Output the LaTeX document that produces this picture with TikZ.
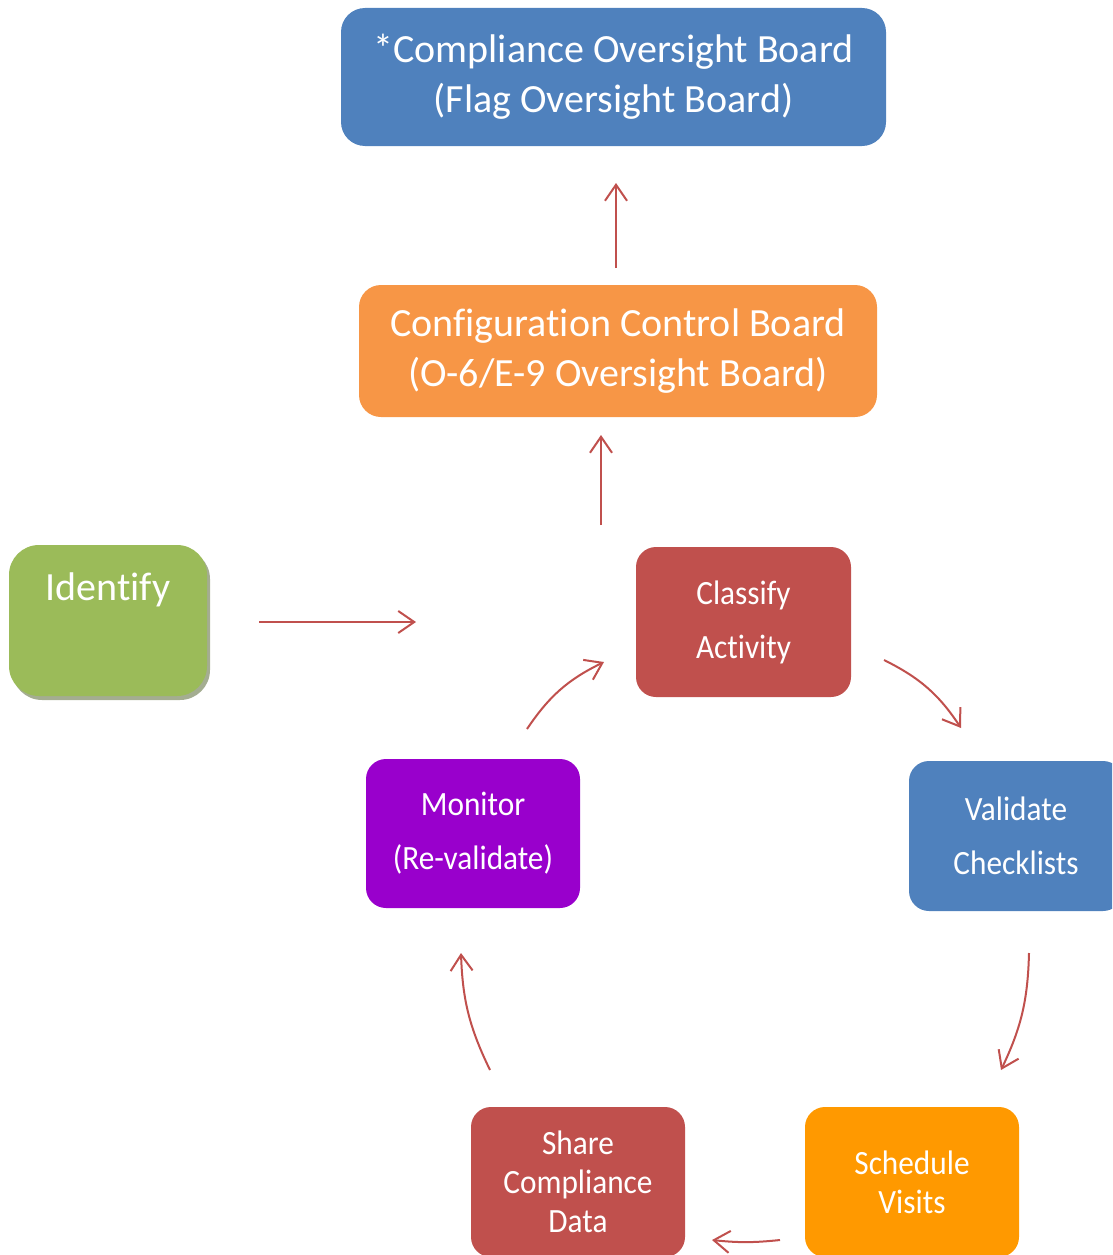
\documentclass[tikz,border=0pt]{standalone}
\usepackage{fontspec}
\setmainfont{Carlito}[Ligatures={NoCommon}]
\newfontfamily\condfont{Carlito}[FakeStretch=0.92,Ligatures={NoCommon}]
\usetikzlibrary{arrows.meta}
\definecolor{cblue}{HTML}{4F81BD}
\definecolor{corange}{HTML}{F79646}
\definecolor{cgreen}{HTML}{9BBB59}
\definecolor{cshadow}{HTML}{A4AD91}
\definecolor{cred}{HTML}{C0504D}
\definecolor{cpurple}{HTML}{9900CC}
\definecolor{corange2}{HTML}{FF9900}
\definecolor{arrowred}{HTML}{C0504D}
\begin{document}
\begin{tikzpicture}[x=1pt,y=1pt,
  box/.style={draw=none, rounded corners=20pt, text=white, align=center, inner sep=0pt},
  bigtxt/.style={font=\fontsize{40}{50}\selectfont},
  smalltxt/.style={font=\condfont\fontsize{34}{54}\selectfont},
  tinytxt/.style={font=\condfont\fontsize{34}{39}\selectfont},
  flow/.style={draw=arrowred, line width=2pt, -{Straight Barb[length=16pt,width=22pt,line width=2pt]}},
]
\useasboundingbox (0,0) rectangle (1112,-1255);
\clip (0,0) rectangle (1112,-1255);

\node[box, fill=cblue, minimum width=545pt, minimum height=138pt, rounded corners=24pt, bigtxt] (cob) at (613.5,-77) {*Compliance Oversight Board\\(Flag Oversight Board)};
\node[box, fill=corange, minimum width=518pt, minimum height=132pt, rounded corners=22pt, bigtxt] (ccb) at (618,-351) {Configuration Control Board\\(O-6/E-9 Oversight Board)};

\node[box, fill=cshadow, minimum width=198pt, minimum height=151pt, rounded corners=30pt] (idshadow) at (111,-624.5) {};
\node[box, fill=cgreen, minimum width=198pt, minimum height=151pt, rounded corners=30pt] (id) at (108,-620.5) {};
\node[text=white, bigtxt, anchor=base, inner sep=0pt] (idtxt) at (108,-600) {Identify};

\node[box, fill=cred, minimum width=215pt, minimum height=150pt, smalltxt] (cls) at (743.5,-622) {Classify\\Activity};
\node[box, fill=cblue, minimum width=214pt, minimum height=150pt, smalltxt] (val) at (1016,-836) {Validate\\Checklists};
\node[box, fill=cpurple, minimum width=214pt, minimum height=149pt, smalltxt] (mon) at (473,-833.5) {Monitor\\(Re-validate)};
\node[box, fill=cred, minimum width=214pt, minimum height=150pt, tinytxt] (shr) at (578,-1182) {Share\\Compliance\\Data};
\node[box, fill=corange2, minimum width=214pt, minimum height=150pt, tinytxt] (sch) at (912,-1182) {Schedule\\Visits};

\coordinate (a1s) at (616,-268); \coordinate (a1e) at (616,-183);
\coordinate (a2s) at (601,-525); \coordinate (a2e) at (601,-435);
\coordinate (a3s) at (259,-622); \coordinate (a3e) at (416,-622);
\coordinate (a4s) at (884,-660); \coordinate (a4e) at (961,-728);
\coordinate (a5s) at (1029,-953); \coordinate (a5e) at (1001,-1070);
\coordinate (a6s) at (780,-1240); \coordinate (a6e) at (712,-1240);
\coordinate (a7s) at (490,-1070); \coordinate (a7e) at (461,-953);
\coordinate (a8s) at (527,-729); \coordinate (a8e) at (604,-662);

\draw[flow] (a1s) -- (a1e);
\draw[flow] (a2s) -- (a2e);
\draw[flow] (a3s) -- (a3e);
\draw[flow] (a4s) to[bend left=15] (a4e);
\draw[flow] (a5s) to[bend left=12] (a5e);
\draw[flow] (a6s) to[bend left=6] (a6e);
\draw[flow] (a7s) to[bend left=12] (a7e);
\draw[flow] (a8s) to[bend left=15] (a8e);
\end{tikzpicture}
\end{document}
